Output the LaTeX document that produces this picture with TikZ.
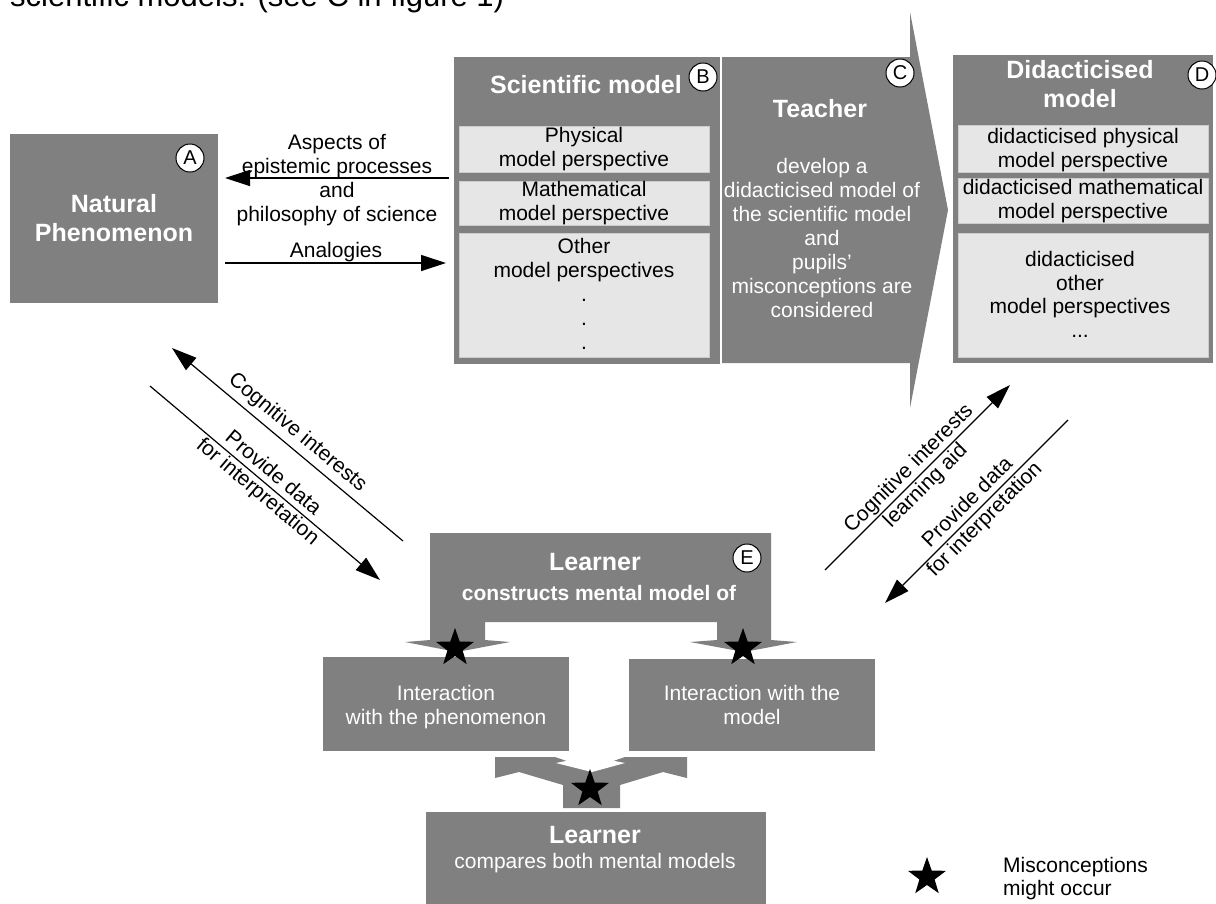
\documentclass[tikz,border=0pt]{standalone}
\usepackage{fontspec}
\setmainfont{Liberation Sans}
\usetikzlibrary{arrows.meta,shapes.geometric}
\definecolor{boxgray}{HTML}{808080}
\definecolor{lightbox}{HTML}{E6E6E6}
\begin{document}
\begin{tikzpicture}[x=1pt,y=-1pt,
  darkbox/.style={fill=boxgray, draw=none, inner sep=0pt, anchor=north west},
  lightpanel/.style={fill=lightbox, draw=gray!40, line width=0.8pt, inner sep=0pt, anchor=north west},
  hdr/.style={font=\bfseries\fontsize{25}{29}\selectfont, text=white, align=center, inner sep=0pt, anchor=base},
  body/.style={font=\fontsize{21}{24}\selectfont, align=center, inner sep=0pt, anchor=base},
  wbody/.style={body, text=white},
  tag/.style={circle, draw=black, fill=white, line width=1pt, minimum size=28pt, inner sep=0pt, font=\fontsize{20}{20}\selectfont},
  mstar/.style={star, star points=5, star point ratio=2.5, fill=black, draw=none, minimum size=40pt, inner sep=0pt},
  conn/.style={line width=1.2pt, -{Triangle[length=25pt,width=16pt]}},
  dlabel/.style={font=\fontsize{21}{24}\selectfont, align=center, inner sep=0pt, sloped}
]
\useasboundingbox (0,0) rectangle (1216,903);

% cut-off caption line at the top
\node[anchor=base west, inner sep=0pt, font=\fontsize{31}{31}\selectfont] (topline) at (10,6) {scientific models. (see C in figure 1)};

% A
\node[darkbox, minimum width=208pt, minimum height=169pt] (boxA) at (10,134) {};
\node[hdr] (tA) at (114,241) {Natural\\Phenomenon};
\node[tag] (cA) at (190,158) {A};

% arrows between A and B
\coordinate (aspR) at (449,178);
\coordinate (aspL) at (225,178);
\coordinate (anaL) at (225,263);
\coordinate (anaR) at (446,263);
\draw[conn] (aspR) -- (aspL);
\draw[conn] (anaL) -- (anaR);
\node[body] (tAsp) at (337,221) {Aspects of\\epistemic processes\\and\\philosophy of science};
\node[body] (tAna) at (336,257) {Analogies};

% B
\node[darkbox, minimum width=266pt, minimum height=307pt] (boxB) at (454,57) {};
\node[hdr] (tB) at (586,93) {Scientific model};
\node[tag] (cB) at (703,77) {B};
\node[lightpanel, minimum width=250pt, minimum height=46pt] (pB1) at (459,126) {};
\node[lightpanel, minimum width=250pt, minimum height=44pt] (pB2) at (459,181) {};
\node[lightpanel, minimum width=250pt, minimum height=124pt] (pB3) at (459,233) {};
\node[body] (tB1) at (584,166) {Physical\\model perspective};
\node[body] (tB2) at (584,220) {Mathematical\\model perspective};
\node[body] (tB3) at (584,349) {Other\\model perspectives\\.\\.\\.};

% C (teacher arrow)
\fill[boxgray] (722,57) -- (910,57) -- (910,12) -- (948,210) -- (910,408) -- (910,363) -- (722,363) -- cycle;
\node[hdr] (tC) at (820,117) {Teacher};
\node[wbody] (tC2) at (822,317) {develop a\\didacticised model of\\the scientific model\\and\\pupils'\\misconceptions are\\considered};
\node[tag] (cC) at (900,73) {C};

% D
\node[darkbox, minimum width=260pt, minimum height=308pt] (boxD) at (953,55) {};
\node[hdr] (tD) at (1080,107) {Didacticised\\model};
\node[tag] (cD) at (1202,75) {D};
\node[lightpanel, minimum width=250pt, minimum height=47pt] (pD1) at (958,125) {};
\node[lightpanel, minimum width=250pt, minimum height=45pt] (pD2) at (958,178) {};
\node[lightpanel, minimum width=250pt, minimum height=124pt] (pD3) at (958,233) {};
\node[body] (tD1) at (1083,167) {didacticised physical\\model perspective};
\node[body] (tD2) at (1083,218) {didacticised mathematical\\model perspective};
\node[body, font=\fontsize{21}{23.4}\selectfont] (tD3) at (1080,337) {didacticised\\other\\model perspectives\\...};

% diagonal arrows left
\coordinate (l1s) at (403,541);
\coordinate (l1e) at (172,348);
\coordinate (l2s) at (150,386);
\coordinate (l2e) at (380,580);
\draw[conn] (l1s) -- node[dlabel, above=5pt, pos=0.5] (lbl1) {Cognitive interests} (l1e);
\draw[conn] (l2s) -- node[dlabel, pos=0.5] (lbl2) {Provide data\\for interpretation} (l2e);

% diagonal arrows right
\coordinate (r1s) at (825,570);
\coordinate (r1e) at (1010,385);
\coordinate (r2s) at (1068,420);
\coordinate (r2e) at (885,603);
\draw[conn] (r1s) -- node[dlabel, pos=0.5] (lbl3) {Cognitive interests\\learning aid} (r1e);
\draw[conn] (r2s) -- node[dlabel, pos=0.5] (lbl4) {Provide data\\for interpretation} (r2e);

% E
\fill[boxgray] (430,533) -- (771,533) -- (771,640) -- (797,642) -- (744,652) -- (690,642) -- (717,640) -- (717,622)
  -- (485,622) -- (485,640) -- (510,642) -- (457,652) -- (405,642) -- (430,640) -- cycle;
\node[hdr] (tE) at (595,570) {Learner};
\node[hdr, font=\bfseries\fontsize{21}{24}\selectfont] (tE2) at (599,600) {constructs mental model of};
\node[tag] (cE) at (747,558) {E};

% interaction boxes
\node[darkbox, minimum width=246pt, minimum height=94pt] (boxI1) at (323,657) {};
\node[darkbox, minimum width=246pt, minimum height=92pt] (boxI2) at (629,659) {};
\node[wbody] (tI1) at (446,724) {Interaction\\with the phenomenon};
\node[wbody] (tI2) at (752,724) {Interaction with the\\model};

% merging connector
\fill[boxgray] (495,757) -- (555,757) -- (590,769) -- (625,757) -- (687,757) -- (687,778) -- (663,772) -- (620,785)
  -- (620,808) -- (563,808) -- (563,785) -- (519,772) -- (495,778) -- cycle;
\fill[white] (556,763) -- (590,756) -- (625,763) -- (592,772) -- cycle;

% bottom learner box
\node[darkbox, minimum width=340pt, minimum height=95pt] (boxL) at (426,812) {};
\node[hdr] (tL) at (595,843) {Learner};
\node[wbody] (tL2) at (595,868) {compares both mental models};

% stars
\node[mstar] (s1) at (455,648) {};
\node[mstar] (s2) at (743,648) {};
\node[mstar] (s3) at (590,789) {};
\node[mstar] (s4) at (927,877) {};
\node[font=\fontsize{21}{23}\selectfont, align=left, anchor=base west, inner sep=0pt] (legend) at (1003,895) {Misconceptions\\might occur};
\end{tikzpicture}
\end{document}
